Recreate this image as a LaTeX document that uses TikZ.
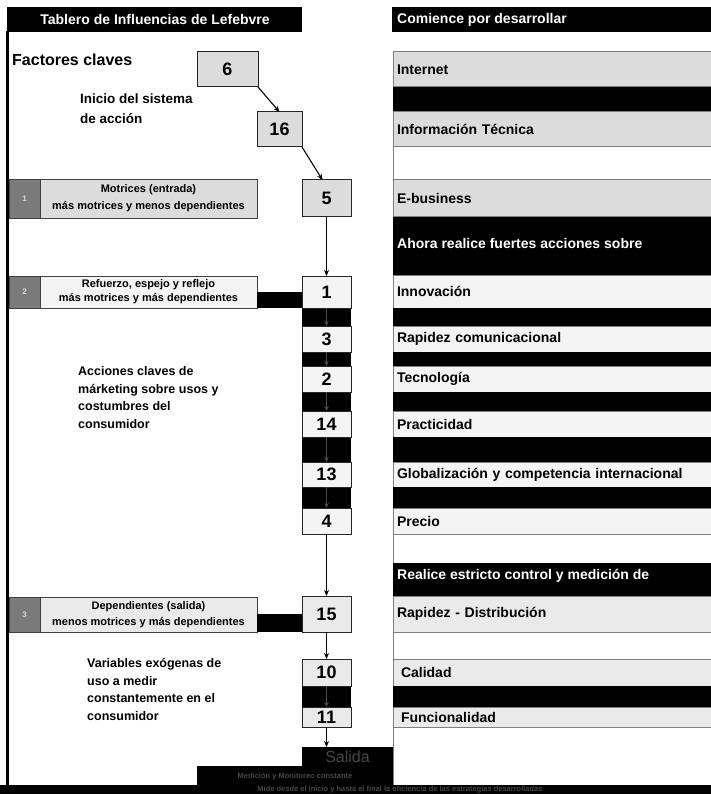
\documentclass[tikz,border=0pt]{standalone}
\usepackage{fontspec}
\setmainfont{Liberation Sans}
\usetikzlibrary{arrows.meta}

\definecolor{rowA}{HTML}{DCDCDC}
\definecolor{rowB}{HTML}{F4F4F4}
\definecolor{rowC}{HTML}{EAEAEA}
\definecolor{rule}{HTML}{808080}
\definecolor{tagfill}{HTML}{7A7A7A}
\definecolor{ghost}{HTML}{4A4A4A}

\newcommand{\fs}[1]{\fontsize{#1}{#1}\selectfont}

\begin{document}
\begin{tikzpicture}[x=1pt,y=-1pt,
  numbox/.style={draw=black!85, line width=1pt, inner sep=0pt, outer sep=0pt,
    minimum width=49pt, font=\fs{18}\bfseries},
  rowbox/.style={draw=rule, line width=1pt, inner sep=0pt, inner xsep=4pt, outer sep=0pt,
    anchor=north west, minimum width=330pt, text width=322pt, align=left,
    font=\fs{14}\bfseries},
  leftbox/.style={draw=black!75, line width=0.9pt, inner sep=0pt, outer sep=0pt,
    minimum width=217pt, align=center, font=\fs{11}\bfseries},
  tagbox/.style={draw=black!75, fill=tagfill, line width=0.9pt, inner sep=0pt, outer sep=0pt,
    minimum width=31pt, text=white!85!black, font=\fs{8}\bfseries},
  note/.style={anchor=north west, align=left, inner sep=0pt,
    font=\fontsize{12.5}{17.8}\selectfont\bfseries},
  headtext/.style={text=white, inner sep=0pt, font=\fs{14}\bfseries},
  arr/.style={line width=1.1pt, -{Stealth[length=6pt,width=5pt]}},
  ghostarr/.style={draw=ghost, line width=0.8pt, -{Stealth[length=5pt,width=4.5pt,open]}}
]
\useasboundingbox (0,0) rectangle (711,794);
\fill[white] (0,0) rectangle (711,794);

% ---------- headers ----------
\fill[black] (7,7) rectangle (302,32);
\fill[black] (392,7) rectangle (711,32);
\node[headtext] (hleft) at (155,19.5) {Tablero de Influencias de Lefebvre};
\node[headtext, anchor=west] (hright) at (397,19.5) {Comience por desarrollar};

% ---------- left frame line ----------
\draw[line width=3.5pt] (7.5,31) -- (7.5,786);

% ---------- right column ----------
\node[rowbox, fill=rowA, minimum height=35pt] (rInternet) at (393,52) {Internet};
\fill[black] (393,87) rectangle (712,112);
\node[rowbox, fill=rowA, minimum height=35pt] (rInfo) at (393,112) {Información Técnica};
\node[rowbox, fill=white, minimum height=33pt] (rBlank1) at (393,147) {};
\node[rowbox, fill=rowA, minimum height=37pt] (rEbiz) at (393,180) {E-business};
\fill[black] (393,217) rectangle (712,275);
\node[headtext, anchor=west] (tAhora) at (397,243) {Ahora realice fuertes acciones sobre};
\node[rowbox, fill=rowB, minimum height=33pt] (rInnov) at (393,275) {Innovación};
\fill[black] (393,308) rectangle (712,326);
\node[rowbox, fill=rowB, minimum height=26pt] (rRapCom) at (393,326) {Rapidez comunicacional};
\fill[black] (393,352) rectangle (712,366);
\node[rowbox, fill=rowB, minimum height=26pt] (rTec) at (393,366) {Tecnología};
\fill[black] (393,392) rectangle (712,411);
\node[rowbox, fill=rowB, minimum height=26pt] (rPrac) at (393,411) {Practicidad};
\fill[black] (393,437) rectangle (712,462);
\node[rowbox, fill=rowB, minimum height=25pt] (rGlob) at (393,462) {Globalización y competencia internacional};
\fill[black] (393,487) rectangle (712,508);
\node[rowbox, fill=rowB, minimum height=26pt] (rPrecio) at (393,508) {Precio};
\node[rowbox, fill=white, minimum height=29pt] (rBlank2) at (393,534) {};
\fill[black] (393,563) rectangle (712,596);
\node[headtext, anchor=west] (tRealice) at (397,576) {Realice estricto control y medición de};
\node[rowbox, fill=rowC, minimum height=36pt] (rRapDis) at (393,596) {Rapidez - Distribución};
\node[rowbox, fill=white, minimum height=27pt] (rBlank3) at (393,632) {};
\node[rowbox, fill=rowC, minimum height=27pt, inner xsep=8pt, text width=314pt] (rCal) at (393,659) {Calidad};
\fill[black] (393,686) rectangle (712,707);
\node[rowbox, fill=rowC, minimum height=20pt, inner xsep=8pt, text width=314pt] (rFunc) at (393,707) {Funcionalidad};
\node[rowbox, fill=white, minimum height=58pt] (rBlank4) at (393,727) {};

% ---------- left texts ----------
\node[anchor=west, inner sep=0pt, font=\fs{16}\bfseries] (tFact) at (12,60) {Factores claves};
\node[note, font=\fontsize{13.5}{20}\selectfont\bfseries] (tInicio) at (80,94) {Inicio del sistema\\de acción};
\node[note] (tAcc) at (78,366) {Acciones claves de\\márketing sobre usos y\\costumbres del\\consumidor};
\node[note] (tVar) at (87,658) {Variables exógenas de\\uso a medir\\constantemente en el\\consumidor};

% ---------- level bands ----------
\node[tagbox, minimum height=39pt] (tag1) at (24.5,198.5) {1};
\node[leftbox, fill=rowA, minimum height=39pt] (motr) at (148.5,198.5)
  {Motrices (entrada)\\[6pt]más motrices y menos dependientes};
\node[tagbox, minimum height=32pt] (tag2) at (24.5,292) {2};
\node[leftbox, fill=rowB, minimum height=32pt] (refz) at (148.5,292)
  {Refuerzo, espejo y reflejo\\[3pt]más motrices y más dependientes};
\node[tagbox, minimum height=35pt] (tag3) at (24.5,614.5) {3};
\node[leftbox, fill=rowC, minimum height=35pt] (dep) at (148.5,614.5)
  {Dependientes (salida)\\[5pt]menos motrices y más dependientes};

% ---------- black spine behind the action chain ----------
\fill[black] (302,308) rectangle (351,508);
\fill[black] (302,686) rectangle (351,707);

% ---------- factor boxes ----------
\node[numbox, fill=rowA, minimum width=61pt, minimum height=35pt] (n6) at (227.5,69.5) {6};
\node[numbox, fill=rowA, minimum width=45pt, minimum height=35pt] (n16) at (279.5,129.5) {16};
\node[numbox, fill=rowA, minimum height=37pt] (n5) at (326.5,198.5) {5};
\node[numbox, fill=rowB, minimum height=32pt] (n1) at (326.5,292) {1};
\node[numbox, fill=rowB, minimum height=26pt] (n3) at (326.5,339) {3};
\node[numbox, fill=rowB, minimum height=26pt] (n2) at (326.5,379) {2};
\node[numbox, fill=rowB, minimum height=26pt] (n14) at (326.5,424) {14};
\node[numbox, fill=rowB, minimum height=25pt] (n13) at (326.5,474.5) {13};
\node[numbox, fill=rowB, minimum height=26pt] (n4) at (326.5,521) {4};
\node[numbox, fill=rowC, minimum height=36pt] (n15) at (326.5,614) {15};
\node[numbox, fill=rowC, minimum height=27pt] (n10) at (326.5,672.5) {10};
\node[numbox, fill=rowC, minimum height=20pt] (n11) at (326.5,717) {11};

% connectors from the bands into the chain
\fill[black] (refz.south east) rectangle (n1.west);
\fill[black] (dep.south east) rectangle (n15.west);

% ---------- output block ----------
\fill[black] (0,785) rectangle (711,794);
\fill[black] (197,766) rectangle (393,785);
\node[fill=black, inner sep=0pt, outer sep=0pt, minimum width=91pt, minimum height=19pt,
  text=black!72, font=\fs{16}] (salida) at (347.5,756.5) {Salida};
\node[inner sep=0pt, text=black!72, font=\fs{7.5}\bfseries] (tMed) at (295,777)
  {Medición y Monitoreo constante};
\node[inner sep=0pt, text=black!72, font=\fs{7.5}\bfseries] (tMide) at (400,790)
  {Mide desde el inicio y hasta el final la eficiencia de las estrategias desarrolladas};

% ---------- arrows ----------
\draw[arr] (n6.south east) -- (n16.north);
\draw[arr] (n16.south east) -- ([xshift=-4pt]n5.north);
\draw[arr] (n5.south) -- (n1.north);
\draw[ghostarr] (n1.south) -- (n3.north);
\draw[ghostarr] (n3.south) -- (n2.north);
\draw[ghostarr] (n2.south) -- (n14.north);
\draw[ghostarr] (n14.south) -- (n13.north);
\draw[ghostarr] (n13.south) -- (n4.north);
\draw[arr] (n4.south) -- (n15.north);
\draw[arr] (n15.south) -- (n10.north);
\draw[ghostarr] (n10.south) -- (n11.north);
\draw[arr] (n11.south) -- (n11.south |- salida.north);
\end{tikzpicture}
\end{document}
